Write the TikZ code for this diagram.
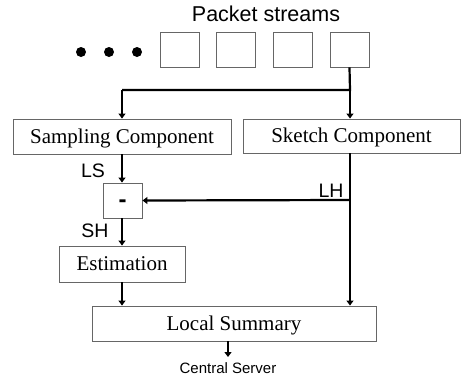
\documentclass[tikz,border=0pt]{standalone}
\usepackage{fontspec}
\setmainfont{Liberation Serif}
\newfontfamily\labelfont{Liberation Sans}
\usetikzlibrary{arrows.meta}
\tikzset{
  box/.style={draw=black!60, line width=0.9pt, fill=white, inner sep=0pt, text height=16pt, text depth=3pt, font=\fontsize{21}{23}\selectfont},
  sq/.style={draw=black!60, line width=0.9pt, minimum width=39pt, minimum height=35pt, inner sep=0pt},
  wire/.style={line width=2.2pt, black},
  arr/.style={wire, -{Triangle[length=5pt,width=7pt]}},
  lab/.style={font=\labelfont\fontsize{19.5}{21}\selectfont, inner sep=0pt},
  dot/.style={circle, fill=black, minimum size=10pt, inner sep=0pt}
}
\begin{document}
\begin{tikzpicture}[x=1pt,y=-1pt]
\useasboundingbox (0,0) rectangle (461,381);
% title
\node[font=\labelfont\fontsize{21.5}{23}\selectfont, inner sep=0pt] (title) at (266,14) {Packet streams};
% dots
\node[dot] (d1) at (81,52) {};
\node[dot] (d2) at (109,52) {};
\node[dot] (d3) at (137,52) {};
% packet squares
\node[sq] (q1) at (179.5,49.5) {};
\node[sq] (q2) at (236,49.5) {};
\node[sq] (q3) at (293,49.5) {};
\node[sq] (q4) at (349.5,49.5) {};
% boxes
\node[box, minimum width=218pt, minimum height=35pt] (samp) at (122,136.5) {Sampling Component};
\node[box, minimum width=217pt, minimum height=34pt] (sketch) at (351.5,136) {Sketch Component};
\node[box, minimum width=39pt, minimum height=35pt, font=\labelfont\bfseries\fontsize{24}{26}\selectfont] (minus) at (122.5,200.5) {-};
\node[box, minimum width=126pt, minimum height=36pt] (est) at (122,264) {Estimation};
\node[box, minimum width=284pt, minimum height=35pt] (ls) at (234,323.5) {Local Summary};
% junctions
\coordinate (j1) at (350,90);
\coordinate (j2) at (122,90);
\coordinate (j3) at (350,200);
\coordinate (cs) at (228,357);
% connectors
\draw[wire] (q4.south) -- (j1) -- (j2);
\draw[arr] (j2) -- (samp.north);
\draw[arr] (j1) -- (j1 |- sketch.north);
\draw[arr] (samp.south) -- (samp.south |- minus.north);
\draw[wire] (j1 |- sketch.south) -- (j3);
\draw[arr] (j3) -- (j3 |- ls.north);
\draw[arr] (j3) -- (minus.east);
\draw[arr] (minus.south -| samp.south) -- (est.north);
\draw[arr] (est.south) -- (est.south |- ls.north);
\draw[arr] (ls.south -| cs) -- (cs);
% labels
\node[lab] (lLS) at (93,171) {LS};
\node[lab] (lLH) at (331,191) {LH};
\node[lab] (lSH) at (95,231) {SH};
\node[font=\labelfont\fontsize{15}{17}\selectfont, inner sep=0pt] (central) at (228,368) {Central Server};
\end{tikzpicture}
\end{document}
